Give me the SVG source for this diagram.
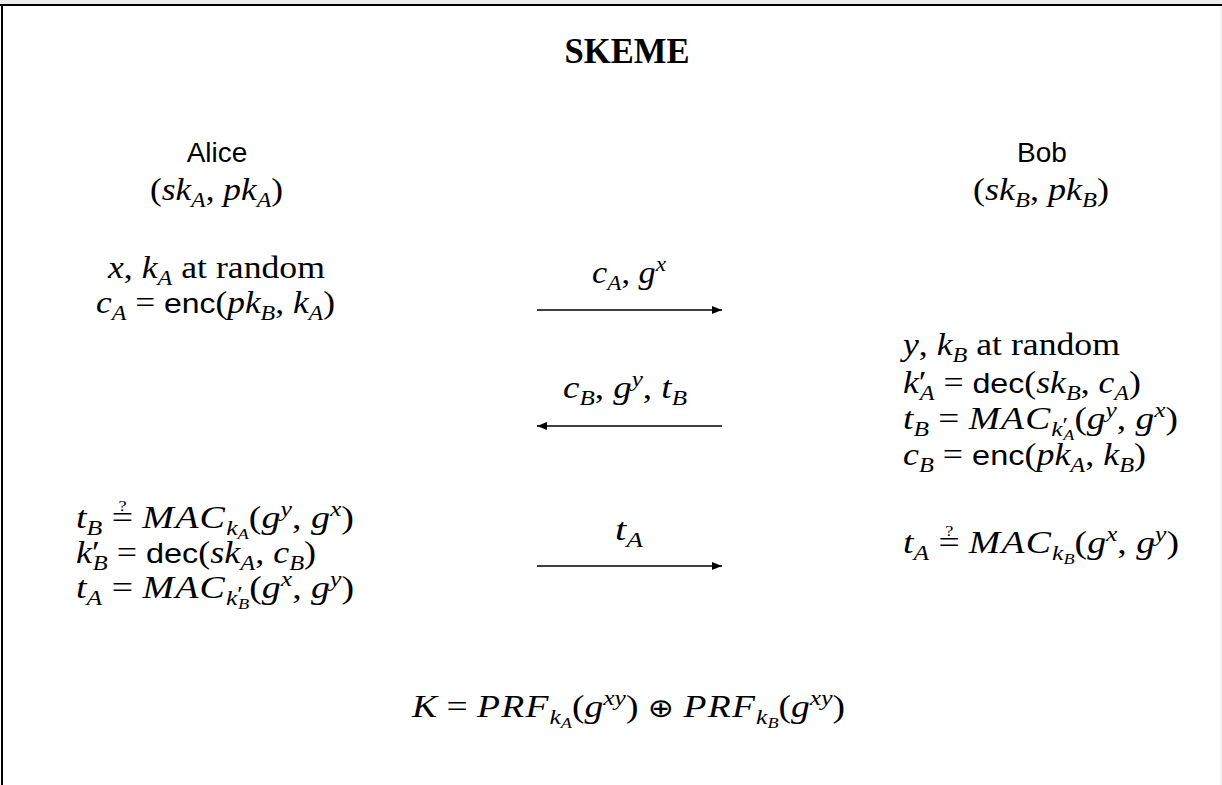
<svg xmlns="http://www.w3.org/2000/svg" width="1222" height="785" viewBox="0 0 1222 785">
<defs>
<style>
text{font-family:"Liberation Serif",serif;font-size:31px;fill:#000;white-space:pre}
.v{font-style:italic}
.sf{font-family:"Liberation Sans",sans-serif;font-size:28px;font-style:normal}
.s{font-size:21px}
.ss{font-size:15px}
.q{font-size:15px;font-style:normal}
.op{font-family:"DejaVu Sans",sans-serif;font-size:26px}
.arr{stroke:#000;stroke-width:1.4;fill:none}
</style>
<marker id="ah" viewBox="0 0 10 8" refX="10" refY="4" markerWidth="10" markerHeight="8" markerUnits="userSpaceOnUse" orient="auto">
<path d="M0,0 L10,4 L0,8 Z" fill="#000"/>
</marker>
</defs>
<rect x="0" y="0" width="1222" height="785" fill="#fff"/>
<rect x="0" y="0" width="1222" height="4" fill="#ececec"/>
<rect x="1220" y="4" width="2" height="781" fill="#f2f2f2"/>
<g id="frame" stroke="#000" stroke-width="2" fill="none">
<line x1="0" y1="5" x2="1222" y2="5"/>
<line x1="2" y1="4" x2="2" y2="785"/>
</g>
<g id="title">
<text x="627" y="63" text-anchor="middle" textLength="125" lengthAdjust="spacingAndGlyphs" style="font-size:35px;font-weight:bold">SKEME</text>
</g>
<g id="alice">
<text x="217" y="162" text-anchor="middle" class="sf">Alice</text>
<text x="216.5" y="200" text-anchor="middle" textLength="133" lengthAdjust="spacingAndGlyphs">(<tspan class="v">sk</tspan><tspan class="v s" dy="7">A</tspan><tspan dy="-7">, </tspan><tspan class="v">pk</tspan><tspan class="v s" dy="7">A</tspan><tspan dy="-7">)</tspan></text>
</g>
<g id="bob">
<text x="1042" y="162" text-anchor="middle" class="sf">Bob</text>
<text x="1041" y="200" text-anchor="middle" textLength="136" lengthAdjust="spacingAndGlyphs">(<tspan class="v">sk</tspan><tspan class="v s" dy="7">B</tspan><tspan dy="-7">, </tspan><tspan class="v">pk</tspan><tspan class="v s" dy="7">B</tspan><tspan dy="-7">)</tspan></text>
</g>
<g id="alice-step1">
<text x="216.5" y="278" text-anchor="middle" textLength="217" lengthAdjust="spacingAndGlyphs"><tspan class="v">x</tspan>, <tspan class="v">k</tspan><tspan class="v s" dy="7">A</tspan><tspan dy="-7"> at random</tspan></text>
<text x="215.5" y="313" text-anchor="middle" textLength="239" lengthAdjust="spacingAndGlyphs"><tspan class="v">c</tspan><tspan class="v s" dy="7">A</tspan><tspan dy="-7"> = </tspan><tspan class="sf">enc</tspan>(<tspan class="v">pk</tspan><tspan class="v s" dy="7">B</tspan><tspan dy="-7">, </tspan><tspan class="v">k</tspan><tspan class="v s" dy="7">A</tspan><tspan dy="-7">)</tspan></text>
</g>
<g id="bob-step">
<text x="903" y="355" textLength="217" lengthAdjust="spacingAndGlyphs"><tspan class="v">y</tspan>, <tspan class="v">k</tspan><tspan class="v s" dy="7">B</tspan><tspan dy="-7"> at random</tspan></text>
<text x="903" y="393" textLength="238" lengthAdjust="spacingAndGlyphs"><tspan class="v">k</tspan>′<tspan class="v s" dx="-6" dy="7">A</tspan><tspan dy="-7"> = </tspan><tspan class="sf">dec</tspan>(<tspan class="v">sk</tspan><tspan class="v s" dy="7">B</tspan><tspan dy="-7">, </tspan><tspan class="v">c</tspan><tspan class="v s" dy="7">A</tspan><tspan dy="-7">)</tspan></text>
<text x="903" y="429" textLength="275" lengthAdjust="spacingAndGlyphs"><tspan class="v">t</tspan><tspan class="v s" dy="7">B</tspan><tspan dy="-7"> = </tspan><tspan class="v" letter-spacing="1">MAC</tspan><tspan class="v s" dy="7">k</tspan><tspan class="s" dy="-4">′</tspan><tspan class="v ss" dx="-4" dy="8">A</tspan><tspan dy="-11">(</tspan><tspan class="v">g</tspan><tspan class="v s" dy="-12">y</tspan><tspan dy="12">, </tspan><tspan class="v">g</tspan><tspan class="v s" dy="-12">x</tspan><tspan dy="12">)</tspan></text>
<text x="903" y="465" textLength="243" lengthAdjust="spacingAndGlyphs"><tspan class="v">c</tspan><tspan class="v s" dy="7">B</tspan><tspan dy="-7"> = </tspan><tspan class="sf">enc</tspan>(<tspan class="v">pk</tspan><tspan class="v s" dy="7">A</tspan><tspan dy="-7">, </tspan><tspan class="v">k</tspan><tspan class="v s" dy="7">B</tspan><tspan dy="-7">)</tspan></text>
</g>
<g id="alice-step2">
<text x="76" y="528" textLength="278" lengthAdjust="spacingAndGlyphs"><tspan class="v">t</tspan><tspan class="v s" dy="7">B</tspan><tspan dy="-7"> =</tspan><tspan class="q" dx="-12" dy="-17">?</tspan><tspan dx="5" dy="17"> </tspan><tspan class="v" letter-spacing="1">MAC</tspan><tspan class="v s" dy="7">k</tspan><tspan class="v ss" dy="4">A</tspan><tspan dy="-11">(</tspan><tspan class="v">g</tspan><tspan class="v s" dy="-12">y</tspan><tspan dy="12">, </tspan><tspan class="v">g</tspan><tspan class="v s" dy="-12">x</tspan><tspan dy="12">)</tspan></text>
<text x="76" y="563" textLength="240" lengthAdjust="spacingAndGlyphs"><tspan class="v">k</tspan>′<tspan class="v s" dx="-6" dy="7">B</tspan><tspan dy="-7"> = </tspan><tspan class="sf">dec</tspan>(<tspan class="v">sk</tspan><tspan class="v s" dy="7">A</tspan><tspan dy="-7">, </tspan><tspan class="v">c</tspan><tspan class="v s" dy="7">B</tspan><tspan dy="-7">)</tspan></text>
<text x="76" y="598" textLength="278" lengthAdjust="spacingAndGlyphs"><tspan class="v">t</tspan><tspan class="v s" dy="7">A</tspan><tspan dy="-7"> = </tspan><tspan class="v" letter-spacing="1">MAC</tspan><tspan class="v s" dy="7">k</tspan><tspan class="s" dy="-4">′</tspan><tspan class="v ss" dx="-4" dy="8">B</tspan><tspan dy="-11">(</tspan><tspan class="v">g</tspan><tspan class="v s" dy="-12">x</tspan><tspan dy="12">, </tspan><tspan class="v">g</tspan><tspan class="v s" dy="-12">y</tspan><tspan dy="12">)</tspan></text>
</g>
<g id="bob-check">
<text x="903" y="553" textLength="276" lengthAdjust="spacingAndGlyphs"><tspan class="v">t</tspan><tspan class="v s" dy="7">A</tspan><tspan dy="-7"> =</tspan><tspan class="q" dx="-12" dy="-17">?</tspan><tspan dx="5" dy="17"> </tspan><tspan class="v" letter-spacing="1">MAC</tspan><tspan class="v s" dy="7">k</tspan><tspan class="v ss" dy="4">B</tspan><tspan dy="-11">(</tspan><tspan class="v">g</tspan><tspan class="v s" dy="-12">x</tspan><tspan dy="12">, </tspan><tspan class="v">g</tspan><tspan class="v s" dy="-12">y</tspan><tspan dy="12">)</tspan></text>
</g>
<g id="connectors">
<line class="arr" x1="537" y1="310" x2="722" y2="310" marker-end="url(#ah)"/>
<line class="arr" x1="722" y1="426" x2="537" y2="426" marker-end="url(#ah)"/>
<line class="arr" x1="537" y1="566" x2="722" y2="566" marker-end="url(#ah)"/>
</g>
<g id="labels">
<text x="629" y="283" text-anchor="middle" textLength="74" lengthAdjust="spacingAndGlyphs"><tspan class="v">c</tspan><tspan class="v s" dy="7">A</tspan><tspan dy="-7">, </tspan><tspan class="v">g</tspan><tspan class="v s" dy="-12">x</tspan></text>
<text x="625" y="398" text-anchor="middle" textLength="124" lengthAdjust="spacingAndGlyphs"><tspan class="v">c</tspan><tspan class="v s" dy="7">B</tspan><tspan dy="-7">, </tspan><tspan class="v">g</tspan><tspan class="v s" dy="-12">y</tspan><tspan dy="12">, </tspan><tspan class="v">t</tspan><tspan class="v s" dy="7">B</tspan></text>
<text x="629" y="540" text-anchor="middle" textLength="28" lengthAdjust="spacingAndGlyphs"><tspan class="v">t</tspan><tspan class="v s" dy="7">A</tspan></text>
</g>
<g id="key">
<text x="628.5" y="717" text-anchor="middle" textLength="433" lengthAdjust="spacingAndGlyphs"><tspan class="v">K</tspan> = <tspan class="v" letter-spacing="1">PRF</tspan><tspan class="v s" dy="7">k</tspan><tspan class="v ss" dy="4">A</tspan><tspan dy="-11">(</tspan><tspan class="v">g</tspan><tspan class="v s" dy="-12">xy</tspan><tspan dy="12">) </tspan><tspan class="op">⊕</tspan> <tspan class="v" letter-spacing="1">PRF</tspan><tspan class="v s" dy="7">k</tspan><tspan class="v ss" dy="4">B</tspan><tspan dy="-11">(</tspan><tspan class="v">g</tspan><tspan class="v s" dy="-12">xy</tspan><tspan dy="12">)</tspan></text>
</g>
</svg>
